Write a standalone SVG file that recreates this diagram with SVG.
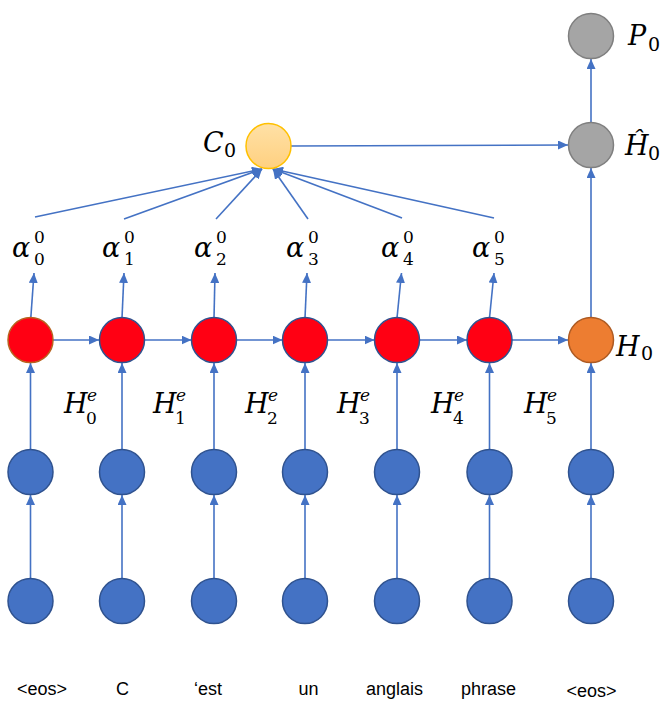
<svg xmlns="http://www.w3.org/2000/svg" width="670" height="711" viewBox="0 0 670 711">
<defs>
<style>
.ln{stroke:#4472C4;stroke-width:1.6;fill:none;marker-end:url(#ah)}
.blue{fill:#4472C4;stroke:#2F528F;stroke-width:1.5}
.red{fill:#FF0013;stroke:#2F528F;stroke-width:1.5}
.gray{fill:#A5A5A5;stroke:#7F7F7F;stroke-width:1.5}
.m{font-family:"DejaVu Serif","Liberation Serif",serif;font-style:italic;font-size:27px;fill:#000}
.d{font-family:"DejaVu Serif","Liberation Serif",serif;font-size:19px;fill:#000}
.s{font-family:"DejaVu Serif","Liberation Serif",serif;font-size:17px;fill:#000}
.e{font-family:"DejaVu Serif","Liberation Serif",serif;font-style:italic;font-size:17px;fill:#000}
.w{font-family:"Liberation Sans",Arial,sans-serif;font-size:18px;fill:#000;text-anchor:middle}
</style>
<marker id="ah" markerUnits="userSpaceOnUse" markerWidth="11" markerHeight="9" refX="10" refY="4.5" orient="auto">
<path d="M0,0 L10,4.5 L0,9 z" fill="#4472C4"/>
</marker>
<linearGradient id="cg" x1="0" y1="0" x2="0" y2="1">
<stop offset="0" stop-color="#FFE1A6"/>
<stop offset="1" stop-color="#FFD080"/>
</linearGradient>
</defs>
<g id="connectors">
<line class="ln" x1="30.5" y1="578" x2="30.5" y2="495"/>
<line class="ln" x1="122" y1="578" x2="122" y2="495"/>
<line class="ln" x1="214" y1="578" x2="214" y2="495"/>
<line class="ln" x1="305" y1="578" x2="305" y2="495"/>
<line class="ln" x1="397" y1="578" x2="397" y2="495"/>
<line class="ln" x1="489.5" y1="578" x2="489.5" y2="495"/>
<line class="ln" x1="591" y1="578" x2="591" y2="495"/>
<line class="ln" x1="30.5" y1="449" x2="30.5" y2="363"/>
<line class="ln" x1="122" y1="449" x2="122" y2="363"/>
<line class="ln" x1="214" y1="449" x2="214" y2="363"/>
<line class="ln" x1="305" y1="449" x2="305" y2="363"/>
<line class="ln" x1="397" y1="449" x2="397" y2="363"/>
<line class="ln" x1="489.5" y1="449" x2="489.5" y2="363"/>
<line class="ln" x1="591" y1="449" x2="591" y2="363"/>
<line class="ln" x1="53" y1="340" x2="99" y2="340"/>
<line class="ln" x1="144.5" y1="340" x2="191.5" y2="340"/>
<line class="ln" x1="236.5" y1="340" x2="282.5" y2="340"/>
<line class="ln" x1="327.5" y1="340" x2="374.5" y2="340"/>
<line class="ln" x1="419.5" y1="340" x2="467" y2="340"/>
<line class="ln" x1="512" y1="340" x2="568" y2="340"/>
<line class="ln" x1="30.8" y1="318" x2="34" y2="273"/>
<line class="ln" x1="122" y1="318" x2="124" y2="273"/>
<line class="ln" x1="214" y1="318" x2="215" y2="273"/>
<line class="ln" x1="305" y1="318" x2="307" y2="273"/>
<line class="ln" x1="397" y1="318" x2="401.5" y2="273"/>
<line class="ln" x1="489.5" y1="318" x2="494" y2="273"/>
<line class="ln" x1="35" y1="217" x2="262" y2="169"/>
<line class="ln" x1="124" y1="219" x2="262" y2="169"/>
<line class="ln" x1="216" y1="219" x2="262" y2="169"/>
<line class="ln" x1="308" y1="219" x2="273" y2="169"/>
<line class="ln" x1="402" y1="218" x2="273" y2="169"/>
<line class="ln" x1="494" y1="218" x2="273" y2="169"/>
<line class="ln" x1="291" y1="146" x2="568" y2="145"/>
<line class="ln" x1="591" y1="317" x2="591" y2="168"/>
<line class="ln" x1="591" y1="122" x2="591" y2="59"/>
</g>
<g id="words">
<circle class="blue" cx="30.5" cy="601" r="22.5"/>
<circle class="blue" cx="122" cy="601" r="22.5"/>
<circle class="blue" cx="214" cy="601" r="22.5"/>
<circle class="blue" cx="305" cy="601" r="22.5"/>
<circle class="blue" cx="397" cy="601" r="22.5"/>
<circle class="blue" cx="489.5" cy="601" r="22.5"/>
<circle class="blue" cx="591" cy="601" r="22.5"/>
</g>
<g id="embeddings">
<circle class="blue" cx="30.5" cy="472" r="22.5"/>
<circle class="blue" cx="122" cy="472" r="22.5"/>
<circle class="blue" cx="214" cy="472" r="22.5"/>
<circle class="blue" cx="305" cy="472" r="22.5"/>
<circle class="blue" cx="397" cy="472" r="22.5"/>
<circle class="blue" cx="489.5" cy="472" r="22.5"/>
<circle class="blue" cx="591" cy="472" r="22.5"/>
</g>
<g id="encoder">
<circle cx="30.5" cy="340" r="22.5" fill="#FF0013" stroke="#B8621E" stroke-width="1.5"/>
<circle class="red" cx="122" cy="340" r="22.5"/>
<circle class="red" cx="214" cy="340" r="22.5"/>
<circle class="red" cx="305" cy="340" r="22.5"/>
<circle class="red" cx="397" cy="340" r="22.5"/>
<circle class="red" cx="489.5" cy="340" r="22.5"/>
</g>
<g id="H0">
<circle cx="591" cy="340" r="22.5" fill="#ED7D31" stroke="#AE5A21" stroke-width="1.5"/>
<text class="m" x="616" y="356" font-size="29">H</text><text class="d" x="641" y="360" font-size="20">0</text>
</g>
<g id="Hhat0">
<circle class="gray" cx="591" cy="145" r="22.5"/>
<text class="m" x="625" y="155" font-size="28">Ĥ</text><text class="d" x="648" y="160" font-size="20">0</text>
</g>
<g id="P0">
<circle class="gray" cx="591" cy="36" r="22.5"/>
<text class="m" x="628" y="45" font-size="29">P</text><text class="d" x="648" y="51" font-size="20">0</text>
</g>
<g id="C0">
<circle cx="268.5" cy="146" r="22.5" fill="url(#cg)" stroke="#FFC000" stroke-width="1.5"/>
<text class="m" x="203" y="152">C</text><text class="d" x="224" y="157">0</text>
</g>
<g id="alphas">
<text class="m" x="12" y="257">α</text><text class="s" x="34" y="243">0</text><text class="s" x="34" y="265">0</text>
<text class="m" x="102" y="257">α</text><text class="s" x="124" y="243">0</text><text class="s" x="124" y="265">1</text>
<text class="m" x="194" y="257">α</text><text class="s" x="216" y="243">0</text><text class="s" x="216" y="265">2</text>
<text class="m" x="286" y="257">α</text><text class="s" x="308" y="243">0</text><text class="s" x="308" y="265">3</text>
<text class="m" x="381" y="257">α</text><text class="s" x="403" y="243">0</text><text class="s" x="403" y="265">4</text>
<text class="m" x="472" y="257">α</text><text class="s" x="494" y="243">0</text><text class="s" x="494" y="265">5</text>
</g>
<g id="Helabels">
<text class="m" x="64" y="413">H</text><text class="e" x="87" y="401">e</text><text class="s" x="86" y="424">0</text>
<text class="m" x="153" y="413">H</text><text class="e" x="176" y="401">e</text><text class="s" x="175" y="424">1</text>
<text class="m" x="245" y="413">H</text><text class="e" x="268" y="401">e</text><text class="s" x="267" y="424">2</text>
<text class="m" x="337" y="413">H</text><text class="e" x="360" y="401">e</text><text class="s" x="359" y="424">3</text>
<text class="m" x="431" y="413">H</text><text class="e" x="454" y="401">e</text><text class="s" x="453" y="424">4</text>
<text class="m" x="524" y="413">H</text><text class="e" x="547" y="401">e</text><text class="s" x="546" y="424">5</text>
</g>
<g id="wordlabels">
<text class="w" x="42" y="695">&lt;eos&gt;</text>
<text class="w" x="122.5" y="695">C</text>
<text class="w" x="208" y="695">‘est</text>
<text class="w" x="308.5" y="695">un</text>
<text class="w" x="394.5" y="695">anglais</text>
<text class="w" x="488.5" y="695">phrase</text>
<text class="w" x="591.5" y="697" font-size="21">&lt;eos&gt;</text>
</g>
</svg>
